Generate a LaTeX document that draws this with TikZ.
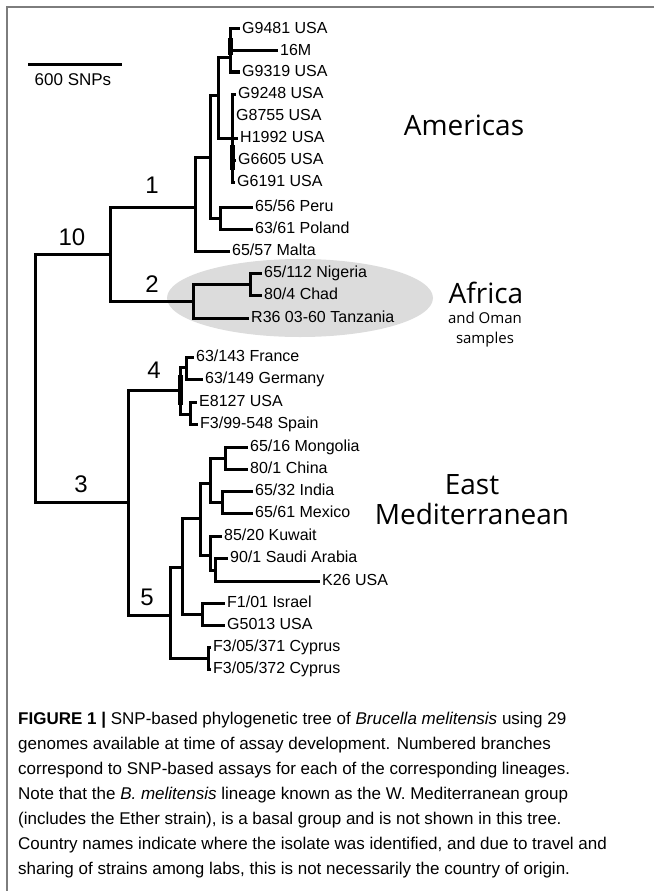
\documentclass[tikz,border=0pt]{standalone}
\usepackage{fontspec}
\setmainfont{Liberation Sans}
\newfontfamily\regfont{Open Sans}
\definecolor{ellgray}{RGB}{220,220,220}
\definecolor{framegray}{RGB}{125,125,125}
\begin{document}
\begin{tikzpicture}[x=1pt,y=-1pt,
  br/.style={line width=3pt},
  leaf/.style={anchor=west, font=\fontsize{16}{18}\selectfont, inner xsep=2pt, inner ysep=0pt, text height=11.5pt, text depth=2.5pt},
  lab/.style={anchor=base, font=\fontsize{24}{26}\selectfont, inner sep=0pt},
  region/.style={font=\regfont\fontsize{28}{30}\selectfont, inner sep=0pt, anchor=base},
  regsmall/.style={font=\regfont\fontsize{15}{17}\selectfont, inner sep=0pt, anchor=base},
  captxt/.style={anchor=base west, font=\fontsize{17}{20}\selectfont, inner sep=0pt}]
\useasboundingbox (0,0) rectangle (654,891);
% frame
\draw[framegray, line width=1.6pt] (654,7) -- (7,7) -- (7,891);
% Africa ellipse
\fill[ellgray] (300,298) ellipse [x radius=133pt, y radius=39pt];
% scale bar
\coordinate (sbL) at (28,65);
\coordinate (sbR) at (122,65);
\draw[br] (sbL) -- (sbR);
\node[font=\fontsize{17}{19}\selectfont, inner sep=0pt] (sbT) at (73,80) {600 SNPs};

% internal nodes
\coordinate (root) at (35,378);
\coordinate (n10) at (110,254);
\coordinate (n1) at (195,207);
\coordinate (nA) at (210,157);
\coordinate (nB) at (218,95);
\coordinate (nUA) at (230,58);
\coordinate (nUB) at (232,138);
\coordinate (nPP) at (220,218);
\coordinate (n2) at (193,301);
\coordinate (nNC) at (250,284);
\coordinate (n3) at (128,502);
\coordinate (n4) at (180,390);
\coordinate (nFG) at (186,367);
\coordinate (nES) at (190,414);
\coordinate (n5) at (170,615);
\coordinate (nM) at (182,567);
\coordinate (nM1) at (200,518);
\coordinate (nM2) at (210,483);
\coordinate (nMC) at (225,458);
\coordinate (nIM) at (222,502);
\coordinate (nKSK) at (210,555);
\coordinate (nSK) at (215,570);
\coordinate (nIG) at (202,614);
\coordinate (nCy) at (208,658);

% leaves
\node[leaf] (G9481) at (240,29) {G9481 USA};
\node[leaf] (M16) at (278,51) {16M};
\node[leaf] (G9319) at (240,72) {G9319 USA};
\node[leaf] (G9248) at (236,94) {G9248 USA};
\node[leaf] (G8755) at (234,116) {G8755 USA};
\node[leaf] (H1992) at (238,138) {H1992 USA};
\node[leaf] (G6605) at (236,160) {G6605 USA};
\node[leaf] (G6191) at (235,182) {G6191 USA};
\node[leaf] (Peru) at (253,207) {65/56 Peru};
\node[leaf] (Poland) at (253,229) {63/61 Poland};
\node[leaf] (Malta) at (230,251) {65/57 Malta};
\node[leaf] (Nigeria) at (262,273) {65/112 Nigeria};
\node[leaf] (Chad) at (262,295) {80/4 Chad};
\node[leaf] (Tanz) at (249,318) {R36 03-60 Tanzania};
\node[leaf] (France) at (194,357) {63/143 France};
\node[leaf] (Germany) at (203,379) {63/149 Germany};
\node[leaf] (E8127) at (197,402) {E8127 USA};
\node[leaf] (Spain) at (198,424) {F3/99-548 Spain};
\node[leaf] (Mongolia) at (248,447) {65/16 Mongolia};
\node[leaf] (China) at (248,469) {80/1 China};
\node[leaf] (India) at (253,491) {65/32 India};
\node[leaf] (Mexico) at (253,513) {65/61 Mexico};
\node[leaf] (Kuwait) at (222,536) {85/20 Kuwait};
\node[leaf] (Saudi) at (228,558) {90/1 Saudi Arabia};
\node[leaf] (K26) at (320,581) {K26 USA};
\node[leaf] (Israel) at (225,603) {F1/01 Israel};
\node[leaf] (G5013) at (225,625) {G5013 USA};
\node[leaf] (Cy371) at (211,647) {F3/05/371 Cyprus};
\node[leaf] (Cy372) at (211,669) {F3/05/372 Cyprus};

% branches
\draw[br] (root) |- (n10);
\draw[br] (root) |- (n3);
\draw[br] (n10) |- (n1);
\draw[br] (n10) |- (n2);
\draw[br] (n1) |- (nA);
\draw[br] (n1) |- (Malta.west);
\draw[br] (nA) |- (nB);
\draw[br] (nA) |- (nPP);
\draw[br] (nB) |- (nUA);
\draw[br] (nB) |- (nUB);
\draw[br] (nUA) |- (G9481.west);
\draw[br] (nUA) |- (M16.west);
\draw[br] (nUA) |- (G9319.west);
\draw[br] (nUB) |- (G9248.west);
\draw[br] (nUB) |- (G8755.west);
\draw[br] (nUB) |- (H1992.west);
\draw[br] (nUB) |- (G6605.west);
\draw[br] (nUB) |- (G6191.west);
\draw[br] (nPP) |- (Peru.west);
\draw[br] (nPP) |- (Poland.west);
\draw[br] (n2) |- (nNC);
\draw[br] (n2) |- (Tanz.west);
\draw[br] (nNC) |- (Nigeria.west);
\draw[br] (nNC) |- (Chad.west);
\draw[br] (n3) |- (n4);
\draw[br] (n3) |- (n5);
\draw[br] (n4) |- (nFG);
\draw[br] (n4) |- (nES);
\draw[br] (nFG) |- (France.west);
\draw[br] (nFG) |- (Germany.west);
\draw[br] (nES) |- (E8127.west);
\draw[br] (nES) |- (Spain.west);
\draw[br] (n5) |- (nM);
\draw[br] (n5) |- (nCy);
\draw[br] (nM) |- (nM1);
\draw[br] (nM) |- (nIG);
\draw[br] (nM1) |- (nM2);
\draw[br] (nM1) |- (nKSK);
\draw[br] (nM2) |- (nMC);
\draw[br] (nM2) |- (nIM);
\draw[br] (nMC) |- (Mongolia.west);
\draw[br] (nMC) |- (China.west);
\draw[br] (nIM) |- (India.west);
\draw[br] (nIM) |- (Mexico.west);
\draw[br] (nKSK) |- (Kuwait.west);
\draw[br] (nKSK) |- (nSK);
\draw[br] (nSK) |- (Saudi.west);
\draw[br] (nSK) |- (K26.west);
\draw[br] (nIG) |- (Israel.west);
\draw[br] (nIG) |- (G5013.west);
\draw[br] (nCy) |- (Cy371.west);
\draw[br] (nCy) |- (Cy372.west);
% thick short internal segments
\draw[line width=5pt] (230,38) -- (230,55);
\draw[line width=5pt] (232,145) -- (232,170);
\draw[line width=5pt] (180,375) -- (180,405);

% branch labels
\node[lab] (L10) at (72,245) {10};
\node[lab] (L1) at (152,193) {1};
\node[lab] (L2) at (152,292) {2};
\node[lab] (L3) at (81,492) {3};
\node[lab] (L4) at (154,378) {4};
\node[lab] (L5) at (147,605) {5};

% region labels
\node[region] (Am) at (464,135) {Americas};
\node[region] (Af) at (486,303) {Africa};
\node[regsmall] (Af2) at (485,323) {and Oman};
\node[regsmall] (Af3) at (485,343) {samples};
\node[region] (East) at (472,494) {East};
\node[region] (Med) at (472,524) {Mediterranean};

% caption
\node[captxt] (c1) at (18,724) {\textbf{FIGURE 1 |} SNP-based phylogenetic tree of \textit{Brucella melitensis} using 29};
\node[captxt] (c2) at (18,749) {genomes available at time of assay development. Numbered branches};
\node[captxt] (c3) at (18,774) {correspond to SNP-based assays for each of the corresponding lineages.};
\node[captxt] (c4) at (18,799) {Note that the \textit{B. melitensis} lineage known as the W. Mediterranean group};
\node[captxt] (c5) at (18,824) {(includes the Ether strain), is a basal group and is not shown in this tree.};
\node[captxt] (c6) at (18,849) {Country names indicate where the isolate was identified, and due to travel and};
\node[captxt] (c7) at (18,874) {sharing of strains among labs, this is not necessarily the country of origin.};
\end{tikzpicture}
\end{document}
